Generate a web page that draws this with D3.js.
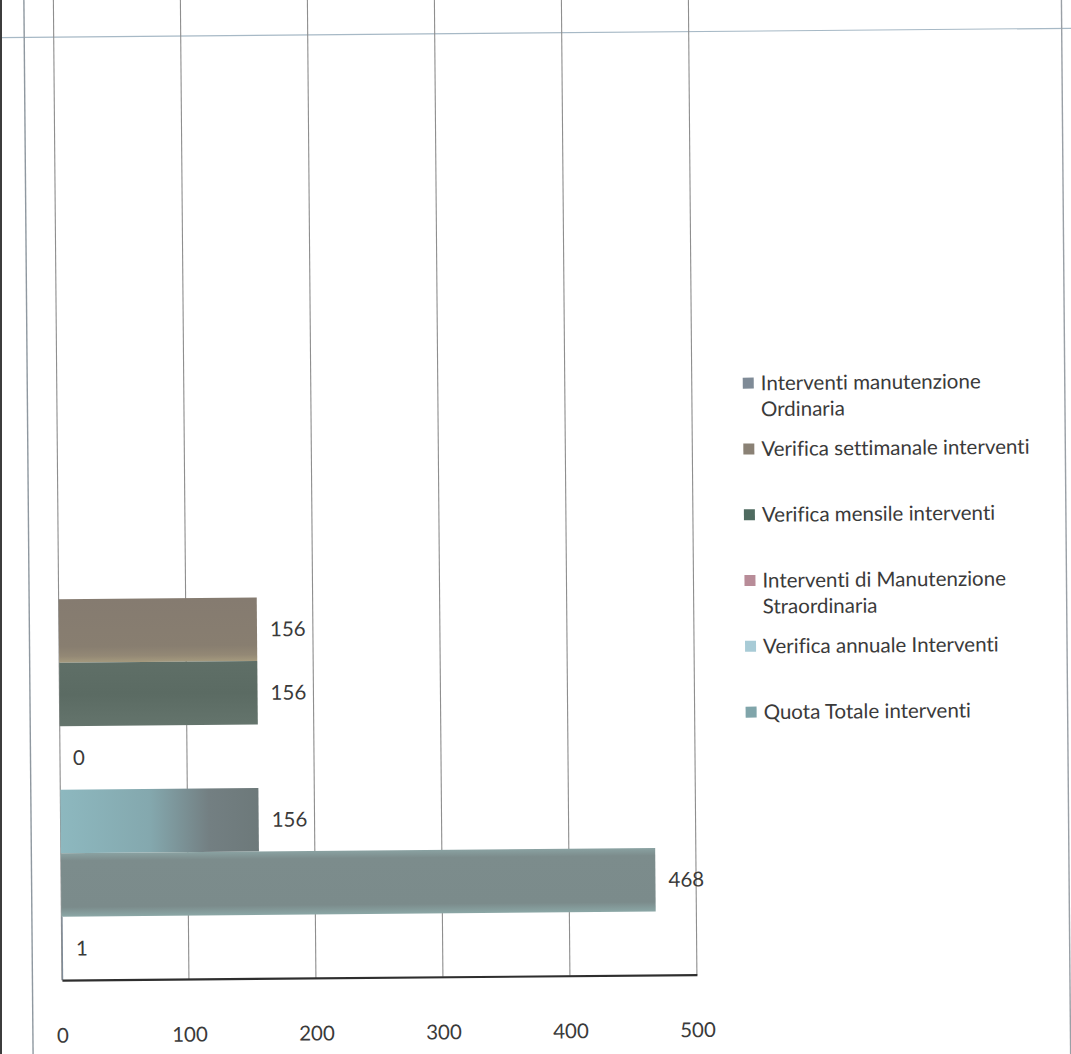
<!DOCTYPE html>
<html>
<head>
<meta charset="utf-8">
<script src="https://cdn.jsdelivr.net/npm/d3@7"></script>
<style>
  html, body { margin: 0; padding: 0; background: #fff; }
  svg { display: block; }
  text { font-family: Lato, "Open Sans", sans-serif; fill: #3a3a3a; font-variant-ligatures: none; font-feature-settings: "liga" 0; }
</style>
</head>
<body>
<svg id="chart" width="1071" height="1054"></svg>
<script>
// ---- data ----
const seriesNames = [
  "Interventi manutenzione Ordinaria",
  "Verifica settimanale interventi",
  "Verifica mensile interventi",
  "Interventi di Manutenzione Straordinaria",
  "Verifica annuale Interventi",
  "Quota Totale interventi"
];
const seriesValues = [1, 156, 156, 0, 156, 468];
const legendLines = [
  ["Interventi manutenzione", "Ordinaria"],
  ["Verifica settimanale interventi"],
  ["Verifica mensile interventi"],
  ["Interventi di Manutenzione", "Straordinaria"],
  ["Verifica annuale Interventi"],
  ["Quota Totale interventi"]
];
// order of the bars from top to bottom
const barOrder = [
  "Verifica settimanale interventi",
  "Verifica mensile interventi",
  "Interventi di Manutenzione Straordinaria",
  "Verifica annuale Interventi",
  "Quota Totale interventi",
  "Interventi manutenzione Ordinaria"
];
const xTicks = [0, 100, 200, 300, 400, 500];
const legendColors = ["#7f8b97", "#8a8175", "#4f6b60", "#b88c98", "#a8cbd6", "#80a5aa"];

// ---- layout ----
const svg = d3.select("#chart");
const W = 1071, H = 1054;
svg.append("rect").attr("width", W).attr("height", H).attr("fill", "#fff");

const g = svg.append("g").attr("transform", "rotate(-0.5, 535, 527)");

const plot = { left: 58, right: 693, top: -20, bottom: 976, barsTop: 595 };

const x = d3.scaleLinear().domain([0, 500]).range([plot.left, plot.right]);
const y = d3.scaleBand().domain(barOrder).range([plot.barsTop, plot.bottom]).padding(0);
const valueOf = name => seriesValues[seriesNames.indexOf(name)];

// page decorations from the scan
g.append("line").attr("x1", -20).attr("x2", W + 20).attr("y1", 33).attr("y2", 33)
  .attr("stroke", "#a7b9c6").attr("stroke-width", 1.2);
g.append("line").attr("x1", 28.5).attr("x2", 28.5).attr("y1", -20).attr("y2", H + 20)
  .attr("stroke", "#8f98a0").attr("stroke-width", 1.4);
g.append("line").attr("x1", 1066).attr("x2", 1066).attr("y1", -20).attr("y2", H + 20)
  .attr("stroke", "#9aa0a6").attr("stroke-width", 1.4);

// gridlines
g.append("g").selectAll("line").data(xTicks).join("line")
  .attr("x1", d => x(d)).attr("x2", d => x(d))
  .attr("y1", plot.top).attr("y2", plot.bottom)
  .attr("stroke", "#8e8e8e").attr("stroke-width", 1.1);

// gradients
const defs = svg.append("defs");
const grads = {
  "Verifica settimanale interventi": { dir: "v", stops: [[0, "#857b70"], [0.75, "#887e70"], [0.9, "#938875"], [1, "#a59a7e"]] },
  "Verifica mensile interventi": { dir: "v", stops: [[0, "#5f6f67"], [0.5, "#5b6b63"], [1, "#64746c"]] },
  "Interventi di Manutenzione Straordinaria": { dir: "v", stops: [[0, "#b88c98"], [1, "#b88c98"]] },
  "Verifica annuale Interventi": { dir: "h", stops: [[0, "#8db8bf"], [0.45, "#84a8ae"], [0.75, "#737f82"], [1, "#6d797a"]] },
  "Quota Totale interventi": { dir: "v", stops: [[0, "#8aa2a2"], [0.12, "#7c8c8c"], [0.85, "#7b8b8b"], [1, "#8ba7a6"]] },
  "Interventi manutenzione Ordinaria": { dir: "v", stops: [[0, "#7f8b97"], [1, "#7f8b97"]] }
};
barOrder.forEach((name, i) => {
  const gr = grads[name];
  const lg = defs.append("linearGradient").attr("id", "gr" + i)
    .attr("x1", 0).attr("y1", 0)
    .attr("x2", gr.dir === "h" ? 1 : 0).attr("y2", gr.dir === "h" ? 0 : 1);
  gr.stops.forEach(s => lg.append("stop").attr("offset", s[0]).attr("stop-color", s[1]));
});

// bars
g.append("g").selectAll("rect").data(barOrder).join("rect")
  .attr("x", x(0))
  .attr("y", d => y(d))
  .attr("width", d => x(valueOf(d)) - x(0))
  .attr("height", y.bandwidth())
  .attr("fill", (d, i) => `url(#gr${i})`);

// data labels
g.append("g").selectAll("text").data(barOrder).join("text")
  .attr("x", d => x(valueOf(d)) + 13)
  .attr("y", d => y(d) + y.bandwidth() / 2)
  .attr("dy", "0.35em")
  .attr("font-size", 20.5)
  .text(d => valueOf(d));

// x axis
const axis = g.append("g").attr("transform", `translate(0,${plot.bottom})`)
  .call(d3.axisBottom(x).tickValues(xTicks).tickSize(0).tickPadding(48));
axis.select(".domain").attr("stroke", "#2e2e2e").attr("stroke-width", 2.2);
axis.selectAll("text").attr("font-size", 20.5).attr("fill", "#3a3a3a")
  .attr("font-family", "Lato, 'Open Sans', sans-serif");

// legend
const lg = g.append("g").attr("transform", "translate(744,385)");
const item = lg.selectAll("g").data(seriesNames).join("g")
  .attr("transform", (d, i) => `translate(0,${i * 65.8})`);
item.append("rect").attr("x", 0).attr("y", -5.5).attr("width", 11).attr("height", 11)
  .attr("fill", (d, i) => legendColors[i]);
item.each(function (d, i) {
  const t = d3.select(this).append("text").attr("x", 18).attr("font-size", 20.5);
  legendLines[i].forEach((ln, j) => {
    t.append("tspan").attr("x", 18).attr("y", j * 26).attr("dy", "0.35em").text(ln);
  });
});

// scan shadow on left edge
svg.append("rect").attr("x", 0).attr("y", 0).attr("width", 2).attr("height", H).attr("fill", "#3c3c3c");
</script>
</body>
</html>
